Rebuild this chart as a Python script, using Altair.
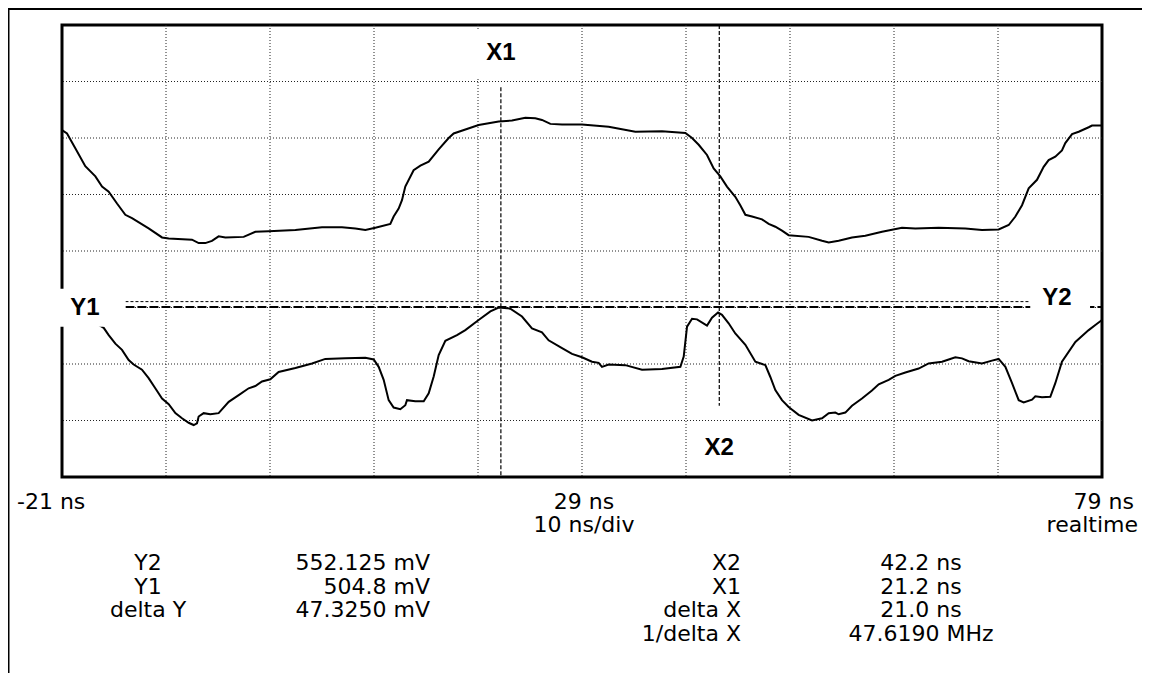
import altair as alt
import pandas as pd

# ---------------- data ----------------
X_MIN, X_MAX = -21, 79          # ns
Y_MIN, Y_MAX = -1000, 3000      # mV  (500 mV/div, 8 div)

grid_t = [-11, -1, 9, 19, 29, 39, 49, 59, 69]
grid_v = [-500, 0, 500, 1000, 1500, 2000, 2500]

upper_t = [-21.0, -20.52, -19.72, -18.76, -17.79, -17.15, -16.51, -15.71, -14.91, -14.27,
           -12.67, -11.38, -10.74, -8.50, -7.86, -7.22, -6.58, -5.94, -5.29, -3.53,
           -2.41, -1.13, 1.44, 4.00, 5.92, 7.21, 8.17, 9.13, 10.57, 10.89,
           11.37, 11.69, 12.01, 12.81, 13.46, 14.26, 15.22, 16.18, 16.66, 19.06,
           20.99, 22.27, 23.55, 24.51, 25.15, 25.96, 27.08, 29.0, 31.56, 34.13,
           36.69, 38.94, 39.58, 40.22, 41.02, 41.66, 42.30, 42.94, 43.74, 44.22,
           44.71, 45.35, 46.31, 46.95, 47.59, 48.23, 48.87, 50.79, 52.08, 52.72,
           53.68, 54.96, 56.24, 57.85, 59.77, 61.05, 63.29, 65.86, 67.46, 69.06,
           70.03, 70.67, 71.31, 71.95, 72.75, 73.39, 73.87, 74.51, 75.15, 75.47,
           76.12, 76.76, 77.72, 78.04, 79.0]
upper_v = [2070, 2040, 1910, 1750, 1660, 1570, 1525, 1420, 1320, 1290,
           1200, 1120, 1110, 1100, 1070, 1070, 1090, 1130, 1120, 1125,
           1170, 1175, 1185, 1210, 1210, 1200, 1185, 1205, 1240, 1305,
           1375, 1450, 1570, 1715, 1755, 1790, 1900, 2000, 2040, 2115,
           2145, 2155, 2180, 2175, 2160, 2125, 2120, 2120, 2100, 2055,
           2060, 2045, 2000, 1940, 1850, 1730, 1660, 1570, 1480, 1405,
           1320, 1305, 1280, 1240, 1215, 1180, 1140, 1125, 1090, 1075,
           1090, 1120, 1135, 1170, 1205, 1200, 1205, 1200, 1185, 1190,
           1230, 1305, 1405, 1555, 1630, 1745, 1805, 1835, 1890, 1955,
           2035, 2055, 2095, 2110, 2110]

lower_t = [-21.0, -19.0, -16.99, -16.51, -15.87, -15.23, -14.59, -14.11, -13.31, -12.67,
           -12.03, -11.38, -10.74, -10.10, -9.46, -8.82, -8.34, -8.02, -7.86, -7.38,
           -6.74, -5.94, -4.97, -4.01, -3.05, -2.41, -1.77, -0.97, -0.17, 1.44,
           3.04, 4.32, 6.24, 8.17, 8.97, 9.45, 9.93, 10.41, 10.89, 11.53,
           12.01, 12.17, 12.97, 13.78, 14.26, 14.74, 15.22, 15.86, 16.98, 17.78,
           19.06, 20.19, 20.99, 22.11, 23.23, 24.19, 25.15, 25.79, 27.08, 28.04,
           29.0, 29.96, 30.60, 30.92, 31.56, 33.17, 34.77, 36.69, 38.46, 38.78,
           39.10, 39.58, 40.06, 41.02, 41.50, 42.08, 42.46, 43.10, 43.74, 44.71,
           45.67, 46.63, 47.11, 47.59, 48.23, 48.87, 49.83, 51.12, 52.08, 52.72,
           53.36, 53.68, 54.32, 54.96, 55.92, 56.88, 57.53, 58.49, 59.13, 60.09,
           61.37, 62.33, 63.62, 64.26, 64.90, 65.54, 66.18, 67.46, 68.42, 69.06,
           69.71, 70.35, 70.99, 71.47, 72.27, 72.59, 73.23, 74.03, 74.51, 75.15,
           76.44, 77.72, 78.36, 79.0]
lower_v = [520, 430, 320, 255, 180, 125, 35, -5, -50, -125,
           -215, -305, -355, -435, -480, -520, -540, -525, -465, -435,
           -445, -435, -335, -275, -215, -195, -155, -135, -70, -35,
           5, 45, 50, 55, 40, -25, -140, -320, -385, -400,
           -365, -320, -330, -330, -260, -110, 80, 205, 255, 300,
           390, 465, 500, 490, 420, 315, 280, 210, 140, 90,
           60, 20, 10, -25, -5, -10, -50, -45, -25, 65,
           330, 400, 395, 340, 410, 455, 435, 360, 270, 170,
           20, -10, -115, -230, -320, -380, -450, -500, -480, -435,
           -430, -445, -430, -370, -305, -235, -180, -140, -105, -75,
           -40, 5, 20, 40, 60, 50, 25, 5, 30, 45,
           -25, -170, -320, -340, -315, -285, -295, -290, -170, 20,
           195, 300, 345, 390]

X1, X2 = 21.2, 42.2            # ns
Y1, Y2 = 504.8, 552.125        # mV

top_labels = ["-21 ns", "29 ns", "79 ns"]
sub_labels = ["10 ns/div", "realtime"]
y_names = ["Y2", "Y1", "delta Y"]
y_values = ["552.125 mV", "504.8 mV", "47.3250 mV"]
x_names = ["X2", "X1", "delta X", "1/delta X"]
x_values = ["42.2 ns", "21.2 ns", "21.0 ns", "47.6190 MHz"]

# ---------------- layout ----------------
W, H = 1040, 452
PAD = {"left": 54, "top": 17, "right": 40, "bottom": 196}
FONT = "DejaVu Sans"
BFONT = "Liberation Sans"
FS = 22

xs = alt.Scale(domain=[X_MIN, X_MAX], nice=False, zero=False)
ys = alt.Scale(domain=[Y_MIN, Y_MAX], nice=False, zero=False)


def X(f):
    return alt.X(f, type="quantitative", scale=xs, axis=None)


def Y(f):
    return alt.Y(f, type="quantitative", scale=ys, axis=None)


one = pd.DataFrame({"k": [0]})
layers = []

# grid
layers.append(alt.Chart(pd.DataFrame({"t": grid_t})).mark_rule(
    color="#222", strokeWidth=1, strokeDash=[1, 2]).encode(x=X("t")))
layers.append(alt.Chart(pd.DataFrame({"v": grid_v})).mark_rule(
    color="#222", strokeWidth=1, strokeDash=[1, 2]).encode(y=Y("v")))

# traces
for tt, vv in ((upper_t, upper_v), (lower_t, lower_v)):
    df = pd.DataFrame({"t": tt, "v": vv, "i": range(len(tt))})
    layers.append(alt.Chart(df).mark_line(color="black", strokeWidth=2).encode(
        x=X("t"), y=Y("v"), order="i:Q"))

# cursors
layers.append(alt.Chart(pd.DataFrame({"t": [X1], "a": [2450], "b": [Y_MIN]})).mark_rule(
    color="black", strokeWidth=1.2, strokeDash=[4, 2]).encode(x=X("t"), y=Y("a"), y2="b"))
layers.append(alt.Chart(pd.DataFrame({"t": [X2], "a": [Y_MAX], "b": [-370]})).mark_rule(
    color="black", strokeWidth=1.2, strokeDash=[4, 2]).encode(x=X("t"), y=Y("a"), y2="b"))
layers.append(alt.Chart(pd.DataFrame({"v": [Y2], "a": [-14.9], "b": [72.1]})).mark_rule(
    color="black", strokeWidth=1, strokeDash=[3, 2]).encode(y=Y("v"), x=X("a"), x2="b"))
layers.append(alt.Chart(pd.DataFrame({"v": [Y1], "a": [-14.9], "b": [X_MAX]})).mark_rule(
    color="black", strokeWidth=2, strokeDash=[9, 3]).encode(y=Y("v"), x=X("a"), x2="b"))

# label boxes
for a, b, c, d in ((-22, -14.9, 330, 665), (72.1, 77.85, 400, 720), (18.7, 23.7, 2540, 2955)):
    layers.append(alt.Chart(pd.DataFrame({"a": [a], "b": [b], "c": [c], "d": [d]})).mark_rect(
        color="white").encode(x=X("a"), x2="b", y=Y("c"), y2="d"))

# cursor labels
for txt, t, v in (("X1", X1, 2750), ("X2", X2, -743), ("Y1", -18.8, 495), ("Y2", 74.67, 580)):
    layers.append(alt.Chart(pd.DataFrame({"t": [t], "v": [v], "s": [txt]})).mark_text(
        font=BFONT, fontWeight="bold", fontSize=24, align="center", baseline="middle",
        color="black").encode(x=X("t"), y=Y("v"), text="s:N"))


def txt(s, px, py, align):
    return alt.Chart(one).mark_text(font=FONT, fontSize=FS, align=align, baseline="middle",
                                    color="black").encode(
        x=alt.value(px), y=alt.value(py), text=alt.value(s))


ox, oy = 62, 25   # page position of plot origin
rows = [502, 525, 563, 586.5, 610, 633.5]
layers.append(txt(top_labels[0], 17 - ox, rows[0] - oy, "left"))
layers.append(txt(top_labels[1], 584 - ox, rows[0] - oy, "center"))
layers.append(txt(top_labels[2], 1134 - ox, rows[0] - oy, "right"))
layers.append(txt(sub_labels[0], 584 - ox, rows[1] - oy, "center"))
layers.append(txt(sub_labels[1], 1138 - ox, rows[1] - oy, "right"))
for i, (n, v) in enumerate(zip(y_names, y_values)):
    layers.append(txt(n, 148 - ox, rows[2 + i] - oy, "center"))
    layers.append(txt(v, 430 - ox, rows[2 + i] - oy, "right"))
for i, (n, v) in enumerate(zip(x_names, x_values)):
    layers.append(txt(n, 741 - ox, rows[2 + i] - oy, "right"))
    layers.append(txt(v, 921 - ox, rows[2 + i] - oy, "center"))

# outer frame (left and top edges)
layers.append(alt.Chart(one).mark_rule(color="black", strokeWidth=2).encode(
    x=alt.value(-53.5), y=alt.value(-17), y2=alt.value(H + PAD["bottom"])))
layers.append(alt.Chart(one).mark_rule(color="black", strokeWidth=2).encode(
    y=alt.value(-16), x=alt.value(-54), x2=alt.value(W + PAD["right"])))

chart = alt.layer(*layers).properties(
    width=W, height=H, padding=PAD, autosize=alt.AutoSizeParams(type="none"),
    background="white",
).configure_view(stroke="black", strokeWidth=3)

chart.save("out.html", embed_options={"renderer": "svg", "actions": False})
